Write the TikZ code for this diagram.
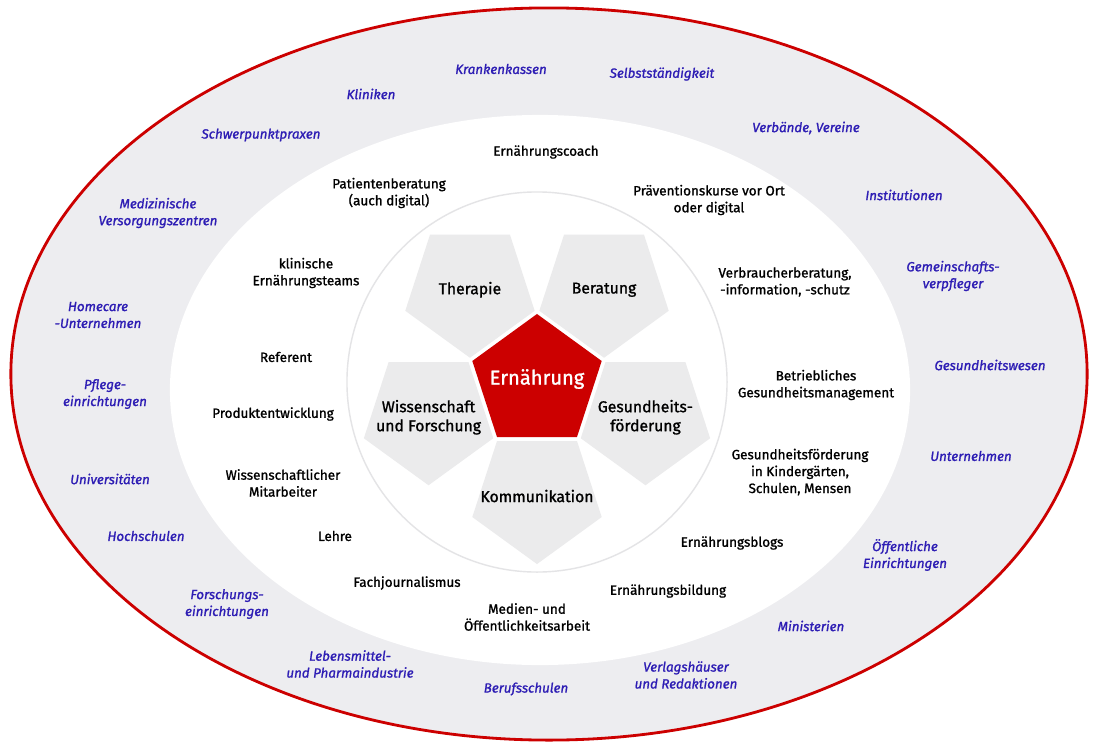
\documentclass[tikz,border=0pt]{standalone}
\usepackage{fontspec}
\setmainfont{Fira Sans}[FakeBold=1.2]
\usepackage{tikz}

\definecolor{ringgrey}{HTML}{EDEDF0}
\definecolor{petalgrey}{HTML}{EBEBEC}
\definecolor{circgrey}{HTML}{E4E4E6}
\definecolor{ernred}{HTML}{CC0000}
\definecolor{orgblue}{HTML}{2D1DB4}

\begin{document}
\begin{tikzpicture}[x=0.025cm,y=-0.025cm,
    org/.style={font=\fontsize{9.5}{12}\selectfont\itshape, text=orgblue, align=center, inner sep=0pt},
    job/.style={font=\fontsize{9.6}{12}\selectfont, align=center, inner sep=0pt},
    field/.style={font=\fontsize{11.2}{13.5}\selectfont, align=center, inner sep=0pt},
    core/.style={font=\fontsize{14.3}{16}\selectfont, text=white, inner sep=0pt}]
  \useasboundingbox (0,0) rectangle (1100,750);
  % rings
  \draw[ernred, line width=2pt, fill=ringgrey] (549,374) ellipse [x radius=13.45cm, y radius=9.15cm];
  \fill[white] (540,390) ellipse [x radius=9.25cm, y radius=6.875cm];
  \draw[circgrey, line width=1pt] (537,382) circle [radius=4.75cm];
  % pentagons
  \coordinate (ern) at (537,382);
  \fill[ernred] ([shift={(90:1.7cm)}]ern)
    \foreach \v in {162,234,306,18} { -- ([shift={(\v:1.7cm)}]ern) } -- cycle;
  \node[core] (ern-txt) at (537,379) {Ernährung};
  \foreach \ang/\nm/\txt in {126/ther/Therapie, 54/ber/Beratung,
      198/wis/{Wissenschaft\\und Forschung}, 342/ges/{Gesundheits-\\förderung},
      270/kom/Kommunikation} {
    \coordinate (\nm) at ([shift={(\ang:2.85cm)}]ern);
    \fill[petalgrey] ([shift={(270:1.7cm)}]\nm)
      \foreach \v in {342,54,126,198} { -- ([shift={(\v:1.7cm)}]\nm) } -- cycle;
    \node[field] (\nm-txt) at (\nm) {\txt};
  }
  % jobs
  \node[job] (coach) at (546,152) {Ernährungscoach};
  \node[job] (pat) at (389,193) {Patientenberatung\\(auch digital)};
  \node[job] (prae) at (709,200) {Präventionskurse vor Ort\\oder digital};
  \node[job] (klin) at (306,273) {klinische\\Ernährungsteams};
  \node[job] (verb) at (785,282) {Verbraucherberatung,\\-information, -schutz};
  \node[job] (ref) at (286,357) {Referent};
  \node[job] (bgm) at (816,385) {Betriebliches\\Gesundheitsmanagement};
  \node[job] (prod) at (273,414) {Produktentwicklung};
  \node[job] (kita) at (800,472) {Gesundheitsförderung\\in Kindergärten,\\Schulen, Mensen};
  \node[job] (wima) at (283,483) {Wissenschaftlicher\\Mitarbeiter};
  \node[job] (lehre) at (335,536) {Lehre};
  \node[job] (blogs) at (732,543) {Ernährungsblogs};
  \node[job] (fach) at (407,583) {Fachjournalismus};
  \node[job] (bild) at (668,591) {Ernährungsbildung};
  \node[job] (med) at (527,617) {Medien- und\\Öffentlichkeitsarbeit};
  % employers
  \node[org] (kk) at (501,69) {Krankenkassen};
  \node[org] (selb) at (662,74) {Selbstständigkeit};
  \node[org] (klinik) at (371,94) {Kliniken};
  \node[org] (schwer) at (261,135) {Schwerpunktpraxen};
  \node[org] (vv) at (806,128) {Verbände, Vereine};
  \node[org] (mvz) at (158,213) {Medizinische\\Versorgungszentren};
  \node[org] (inst) at (904,195) {Institutionen};
  \node[org] (home) at (98,315) {Homecare\\-Unternehmen};
  \node[org] (gv) at (953,276) {Gemeinschafts-\\verpfleger};
  \node[org] (gw) at (990,365) {Gesundheitswesen};
  \node[org] (pflege) at (105,394) {Pflege-\\einrichtungen};
  \node[org] (untern) at (971,456) {Unternehmen};
  \node[org] (uni) at (110,479) {Universitäten};
  \node[org] (hs) at (146,536) {Hochschulen};
  \node[org] (oe) at (905,555) {Öffentliche\\Einrichtungen};
  \node[org] (forsch) at (227,604) {Forschungs-\\einrichtungen};
  \node[org] (mini) at (811,626) {Ministerien};
  \node[org] (leb) at (350,664) {Lebensmittel-\\und Pharmaindustrie};
  \node[org] (verl) at (686,675) {Verlagshäuser\\und Redaktionen};
  \node[org] (bs) at (526,689) {Berufsschulen};
\end{tikzpicture}
\end{document}
